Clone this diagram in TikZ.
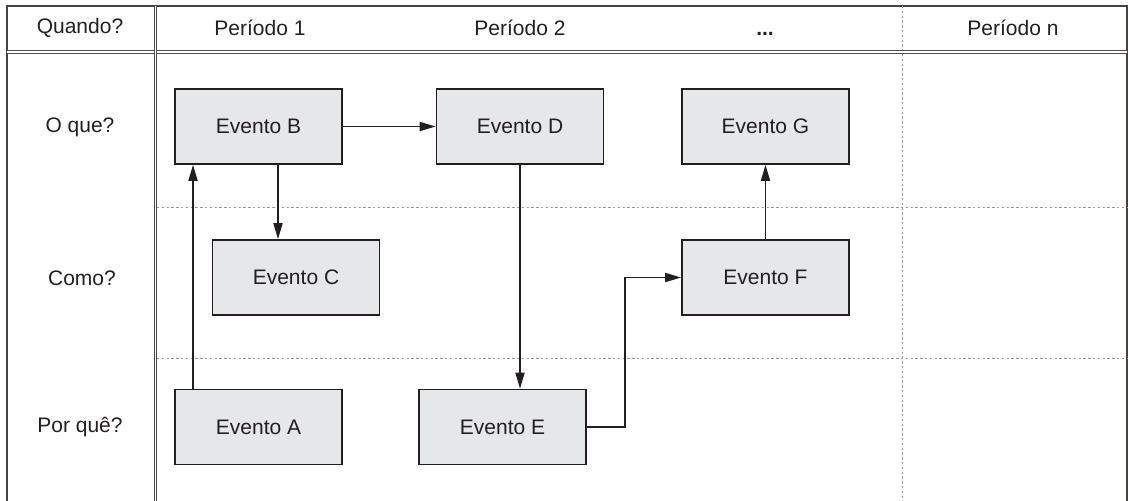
\documentclass[tikz,border=0pt]{standalone}
\usepackage{fontspec}
\setmainfont{Liberation Sans}
\usepackage{tikz}
\usetikzlibrary{arrows.meta}
\definecolor{ink}{HTML}{231F20}
\definecolor{boxfill}{HTML}{E6E7E8}
\tikzstyle{event} = [rectangle, minimum width=83.5pt, minimum height=37.5pt, inner sep=0pt, text centered, draw=ink, fill=boxfill, line width=0.9pt, text=ink]
\tikzstyle{label} = [text=ink]
\tikzstyle{arrow} = [draw=ink, line width=0.6pt, -{Triangle[length=8pt,width=4.6pt]}]
\tikzstyle{frame} = [draw=ink!85, line width=0.6pt]
\tikzstyle{dline} = [draw=ink!80, line width=0.45pt, double=white, double distance=0.9pt]
\tikzstyle{dotline} = [draw=black!40, line width=0.5pt, dash pattern=on 1.2pt off 1.2pt]

\begin{document}
\begin{tikzpicture}[x=0.5pt, y=-0.5pt, font=\fontsize{10.5}{12}\selectfont]
        \clip (0,0) rectangle (1128,500);
        % table
        \draw [frame] (7,510) -- (7,6) -- (1127,6) -- (1127,510);
        \draw [dotline] (902,6) -- (902,510);
        \draw [dotline] (157,207) -- (1127,207);
        \draw [dotline] (157,358) -- (1127,358);
        \draw [dline] (7,52) -- (1127,52);
        \draw [dline] (155.5,6) -- (155.5,510);

        \node (when) [label] at (80,28) {Quando?};
        \node (p1) [label] at (260,28) {Período 1};
        \node (p2) [label] at (520,28) {Período 2};
        \node (pdots) [label] at (765,28) {\vphantom{Período}\textbf{...}};
        \node (pn) [label] at (1013,28) {Período n};

        \node (what) [label] at (80,127) {O que?};
        \node (how) [label] at (82,278) {Como?};
        \node (why) [label] at (80,427) {Por quê?};

        % events
        \node (evB) [event] at (258.5,126.5) {Evento B};
        \node (evD) [event] at (520,126.5) {Evento D};
        \node (evG) [event] at (765.5,126.5) {Evento G};
        \node (evC) [event] at (296,277.5) {Evento C};
        \node (evF) [event] at (765.5,277.5) {Evento F};
        \node (evA) [event] at (258.5,427) {Evento A};
        \node (evE) [event] at (502.5,427) {Evento E};

        \draw [arrow] ([xshift=-32.75pt]evA.north) -- ([xshift=-32.75pt]evB.south);
        \draw [arrow] ([xshift=9.75pt]evB.south) -- ([xshift=9.75pt]evB.south |- evC.north);
        \draw [arrow] (evB) -- (evD);
        \draw [arrow] (evD.south) -- (evD.south |- evE.north);
        \draw [arrow] (evE.east) -| ([xshift=19pt]evE.east |- evF.west) -- (evF.west);
        \draw [arrow] (evF) -- (evG);
    \end{tikzpicture}
\end{document}
